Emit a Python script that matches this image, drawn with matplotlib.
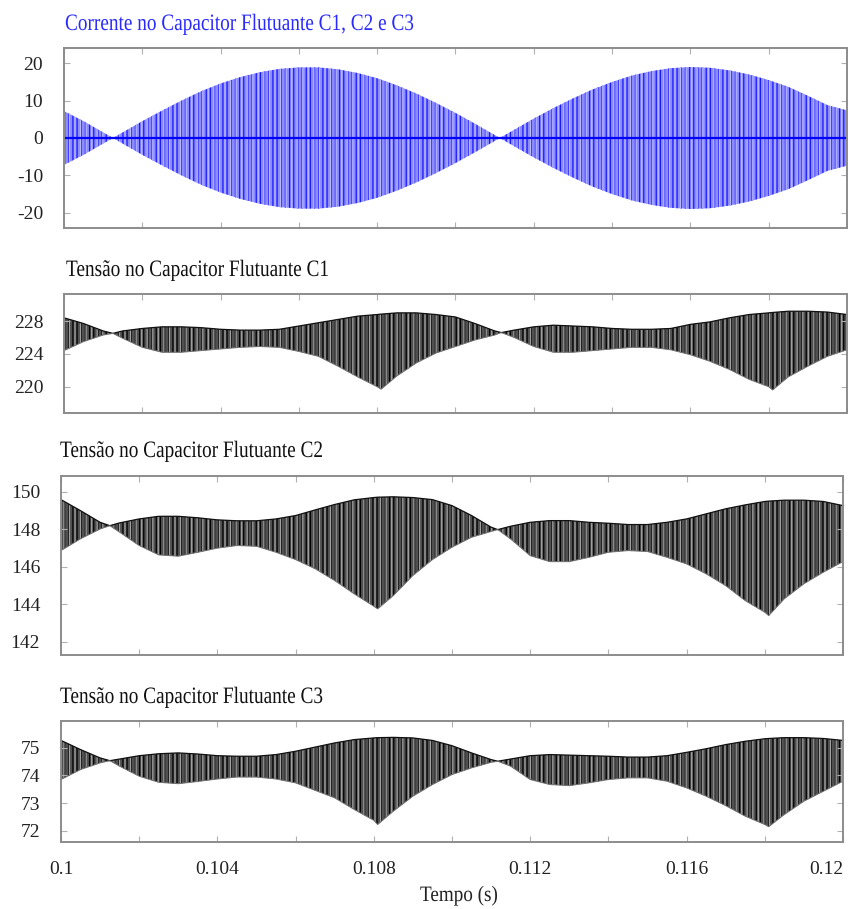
import matplotlib.pyplot as plt
import numpy as np
from matplotlib.font_manager import FontProperties
from matplotlib.patches import PathPatch
from matplotlib.textpath import TextPath
from matplotlib.transforms import Affine2D

# Envelope of the flying-capacitor current (A), symmetric around zero
t_i = [0.1000, 0.1005, 0.1010, 0.10125, 0.1015, 0.1020, 0.1025, 0.1030, 0.1035,
       0.1040, 0.1045, 0.1050, 0.1055, 0.1060, 0.1065, 0.1070, 0.1075, 0.1080,
       0.1085, 0.1090, 0.1095, 0.1100, 0.1105, 0.1110, 0.11113, 0.1115, 0.1120,
       0.1125, 0.1130, 0.1135, 0.1140, 0.1145, 0.1150, 0.1155, 0.1160, 0.1165,
       0.1170, 0.1175, 0.1180, 0.1185, 0.1190, 0.1195, 0.1200]
i_amp = [7.2, 4.5, 1.5, 0.0, 1.5, 4.5, 7.3, 10.0, 12.5,
         14.6, 16.3, 17.6, 18.5, 18.9, 18.9, 18.4, 17.4, 16.0,
         14.1, 11.9, 9.4, 6.7, 3.8, 0.8, 0.0, 2.2, 5.2,
         8.0, 10.6, 13.0, 15.0, 16.7, 17.9, 18.7, 19.0, 18.8,
         18.1, 17.0, 15.5, 13.7, 11.3, 8.8, 7.4]

# Ripple envelopes of the capacitor voltages (V)
t_v = [0.1000, 0.1005, 0.1010, 0.10125, 0.1015, 0.1020, 0.1025, 0.1030, 0.1035,
       0.1040, 0.1045, 0.1050, 0.1055, 0.1060, 0.1065, 0.1070, 0.1075, 0.1080,
       0.1081, 0.1085, 0.1090, 0.1095, 0.1100, 0.1105, 0.1110, 0.11117, 0.1115,
       0.1120, 0.1125, 0.1130, 0.1135, 0.1140, 0.1145, 0.1150, 0.1155, 0.1160,
       0.1165, 0.1170, 0.1175, 0.1180, 0.1181, 0.1185, 0.1190, 0.1195, 0.1200]

c1_hi = [228.4, 227.7, 226.8, 226.5, 226.8, 227.1, 227.3, 227.3, 227.2,
         227.0, 226.9, 226.9, 227.0, 227.4, 227.8, 228.2, 228.6, 228.8,
         228.85, 229.0, 229.0, 228.8, 228.5, 227.7, 226.8, 226.6, 226.9,
         227.3, 227.5, 227.4, 227.3, 227.1, 227.0, 227.0, 227.1, 227.6,
         227.9, 228.4, 228.8, 229.0, 229.05, 229.2, 229.2, 229.1, 228.8]
c1_lo = [224.4, 225.5, 226.3, 226.5, 225.9, 224.8, 224.2, 224.2, 224.4,
         224.6, 224.8, 224.9, 224.8, 224.3, 223.7, 222.5, 221.2, 220.0,
         219.7, 221.3, 222.9, 224.1, 224.9, 225.7, 226.3, 226.6, 226.0,
         224.9, 224.2, 224.2, 224.4, 224.6, 224.8, 224.8, 224.5, 223.9,
         223.1, 222.1, 220.9, 220.0, 219.6, 221.2, 222.5, 223.7, 224.5]

c2_hi = [149.59, 149.00, 148.38, 148.20, 148.35, 148.56, 148.70, 148.70, 148.62,
         148.51, 148.46, 148.46, 148.56, 148.74, 149.04, 149.33, 149.58, 149.70,
         149.72, 149.74, 149.70, 149.59, 149.27, 148.74, 148.12, 147.99, 148.17,
         148.38, 148.47, 148.47, 148.38, 148.33, 148.26, 148.26, 148.38, 148.56,
         148.83, 149.10, 149.31, 149.49, 149.51, 149.56, 149.56, 149.49, 149.27]
c2_lo = [146.87, 147.50, 148.02, 148.20, 147.85, 147.14, 146.64, 146.57, 146.78,
         147.00, 147.14, 147.10, 146.78, 146.39, 145.90, 145.27, 144.56, 143.90,
         143.76, 144.47, 145.54, 146.39, 147.05, 147.58, 147.89, 147.99, 147.49,
         146.60, 146.28, 146.28, 146.51, 146.78, 146.87, 146.82, 146.51, 146.16,
         145.63, 145.00, 144.20, 143.58, 143.40, 144.30, 145.10, 145.72, 146.28]

c3_hi = [75.26, 74.93, 74.63, 74.53, 74.59, 74.71, 74.78, 74.81, 74.77,
         74.71, 74.69, 74.69, 74.75, 74.87, 75.02, 75.17, 75.29, 75.35,
         75.36, 75.37, 75.35, 75.26, 75.07, 74.81, 74.57, 74.51, 74.59,
         74.71, 74.75, 74.73, 74.71, 74.69, 74.66, 74.66, 74.71, 74.83,
         74.96, 75.11, 75.23, 75.32, 75.33, 75.36, 75.36, 75.33, 75.26]
c3_lo = [73.85, 74.21, 74.45, 74.53, 74.33, 73.97, 73.75, 73.70, 73.78,
         73.87, 73.94, 73.94, 73.87, 73.73, 73.46, 73.19, 72.77, 72.38,
         72.23, 72.71, 73.25, 73.67, 74.03, 74.27, 74.47, 74.51, 74.33,
         73.85, 73.67, 73.63, 73.73, 73.85, 73.91, 73.91, 73.79, 73.55,
         73.25, 72.91, 72.53, 72.23, 72.15, 72.59, 73.07, 73.43, 73.79]

titles = ['Corrente no Capacitor Flutuante C1, C2 e C3',
          'Tensão no Capacitor Flutuante C1',
          'Tensão no Capacitor Flutuante C2',
          'Tensão no Capacitor Flutuante C3']
x_ticks = [0.100, 0.102, 0.104, 0.106, 0.108, 0.110, 0.112, 0.114, 0.116, 0.118, 0.120]
x_labels = ['0.1', '', '0.104', '', '0.108', '', '0.112', '', '0.116', '', '0.12']
x_title = 'Tempo (s)'

W, H = 848, 909
SERIF = ['Liberation Serif', 'DejaVu Serif']


def px_axes(fig, left, top, right, bottom):
    return fig.add_axes([left / W, 1 - bottom / H, (right - left) / W, (bottom - top) / H])


def narrow_text(fig, x, baseline, s, em, squeeze, color):
    # serif text drawn as a path, compressed horizontally (x, baseline in pixels from top-left)
    path = TextPath((0, 0), s, size=em, prop=FontProperties(family='Liberation Serif'))
    tr = Affine2D().scale(squeeze, 1.0).translate(x, H - baseline)
    patch = PathPatch(path, transform=tr, facecolor=color, edgecolor='none', lw=0)
    fig.add_artist(patch)
    return path


def style_axes(ax, yticks, ylim, show_x=False):
    ax.set_xlim(0.1, 0.12)
    ax.set_ylim(*ylim)
    ax.set_xticks(x_ticks)
    ax.set_xticklabels(x_labels if show_x else [''] * len(x_ticks))
    ax.set_yticks(yticks)
    ax.set_yticklabels([str(v) for v in yticks])
    ax.tick_params(direction='in', length=4, width=0.8, color='#b0b0b0',
                   top=True, right=True, labelsize=14, labelcolor='#222222')
    ax.tick_params(axis='x', pad=14)
    ax.tick_params(axis='y', pad=15)
    for lab in ax.get_xticklabels() + ax.get_yticklabels():
        lab.set_family(SERIF)
    if show_x:
        ax.get_xticklabels()[-1].set_horizontalalignment('right')
    for sp in ax.spines.values():
        sp.set_color('#8c8c8c')
        sp.set_linewidth(1.4)


def ripple(ax, t, hi, lo):
    ax.fill_between(t, lo, hi, facecolor='#505050', edgecolor='#000000',
                    hatch='||||', linewidth=0)
    ax.fill_between(t, lo, hi, facecolor='none', edgecolor='#a0a0a0',
                    hatch='|||', linewidth=0)
    ax.plot(t, hi, color='#111111', lw=0.9)
    ax.plot(t, lo, color='#707070', lw=0.7)


def main():
    plt.rcParams['hatch.linewidth'] = 0.9
    fig = plt.figure(figsize=(W / 100, H / 100), dpi=100)

    ax1 = px_axes(fig, 64, 48, 847, 228)
    amp = np.array(i_amp)
    ax1.fill_between(t_i, -amp, amp, facecolor='#8c8cff', edgecolor='#1a1aff',
                     hatch='||||', linewidth=0)
    ax1.fill_between(t_i, -amp, amp, facecolor='none', edgecolor='#b8b8ff',
                     hatch='|||', linewidth=0)
    ax1.axhline(0, color='#0000ff', lw=1.6)
    style_axes(ax1, [-20, -10, 0, 10, 20], (-24.1, 24.1))

    ax2 = px_axes(fig, 64, 294, 847, 413)
    ripple(ax2, t_v, c1_hi, c1_lo)
    style_axes(ax2, [220, 224, 228], (216.8, 231.3))

    ax3 = px_axes(fig, 61, 476, 843, 655)
    ripple(ax3, t_v, c2_hi, c2_lo)
    style_axes(ax3, [142, 144, 146, 148, 150], (141.3, 150.85))

    ax4 = px_axes(fig, 61, 721, 843, 842)
    ripple(ax4, t_v, c3_hi, c3_lo)
    style_axes(ax4, [72, 73, 74, 75], (71.6, 75.96), show_x=True)

    title_pos = [(65, 30, '#2a2aff'), (66, 276, '#111111'),
                 (60, 457, '#111111'), (60, 703, '#111111')]
    for (x, y, c), txt in zip(title_pos, titles):
        narrow_text(fig, x, y, txt, 23.5, 0.82, c)

    narrow_text(fig, 420, 901, x_title, 22, 0.87, '#222222')

    fig.savefig('out.png', dpi=100)


if __name__ == '__main__':
    main()
